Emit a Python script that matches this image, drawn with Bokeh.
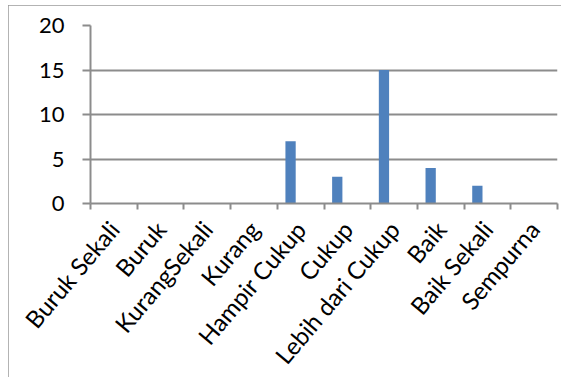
import math
import numpy as np
from bokeh.plotting import figure
from bokeh.models import FixedTicker, Range1d, ColumnDataSource
from bokeh.transform import dodge
from bokeh.embed import file_html
from bokeh.resources import INLINE

categories = ["Buruk Sekali", "Buruk", "KurangSekali", "Kurang", "Hampir Cukup",
              "Cukup", "Lebih dari Cukup", "Baik", "Baik Sekali", "Sempurna"]
values = [0, 0, 0, 0, 7, 3, 15, 4, 2, 0]
y_ticks = [0, 5, 10, 15, 20]

n = len(categories)
centers = [i + 0.5 for i in range(n)]
bounds = [float(i) for i in range(n + 1)]

src = ColumnDataSource(dict(x=centers, v=values))

FONT = "Lato"
GRAY = "#8c8c8c"

p = figure(frame_width=467, frame_height=178,
           x_range=Range1d(0, n), y_range=Range1d(0, 20),
           output_backend="svg", toolbar_location=None,
           min_border_left=82, min_border_right=4,
           min_border_top=20, min_border_bottom=174,
           margin=(5, 0, 0, 8),
           styles={"outline": "1px solid #9a9a9a", "outline-offset": "-1px"})

p.outline_line_color = None
p.background_fill_color = "white"
p.border_fill_color = "white"

p.vbar(x=dodge("x", -0.216, range=p.x_range), top="v", width=0.22,
       source=src, fill_color="#4f81bd", line_color=None)

# grid
p.xgrid.visible = False
p.ygrid.ticker = FixedTicker(ticks=y_ticks)
p.ygrid.grid_line_color = GRAY
p.ygrid.grid_line_width = 2

# y axis
ya = p.yaxis[0]
ya.ticker = FixedTicker(ticks=y_ticks)
ya.axis_line_color = GRAY
ya.axis_line_width = 2
ya.major_tick_line_color = GRAY
ya.major_tick_line_width = 2
ya.major_tick_out = 8
ya.major_tick_in = 0
ya.minor_tick_out = 0
ya.minor_tick_in = 0
ya.major_label_standoff = 18
ya.major_label_text_font = FONT
ya.major_label_text_font_size = "22px"
ya.major_label_text_color = "black"

# x axis
xa = p.xaxis[0]
xa.ticker = FixedTicker(ticks=centers, minor_ticks=bounds)
xa.major_label_overrides = {c: name for c, name in zip(centers, categories)}
xa.axis_line_color = GRAY
xa.axis_line_width = 2
xa.major_tick_out = 0
xa.major_tick_in = 0
xa.minor_tick_line_color = GRAY
xa.minor_tick_line_width = 2
xa.minor_tick_out = 6
xa.minor_tick_in = 0
xa.major_label_orientation = 0.87
xa.major_label_standoff = 15
xa.major_label_text_font = FONT
xa.major_label_text_font_size = "24px"
xa.major_label_text_color = "black"

open("out.html", "w").write(file_html(p, INLINE))
